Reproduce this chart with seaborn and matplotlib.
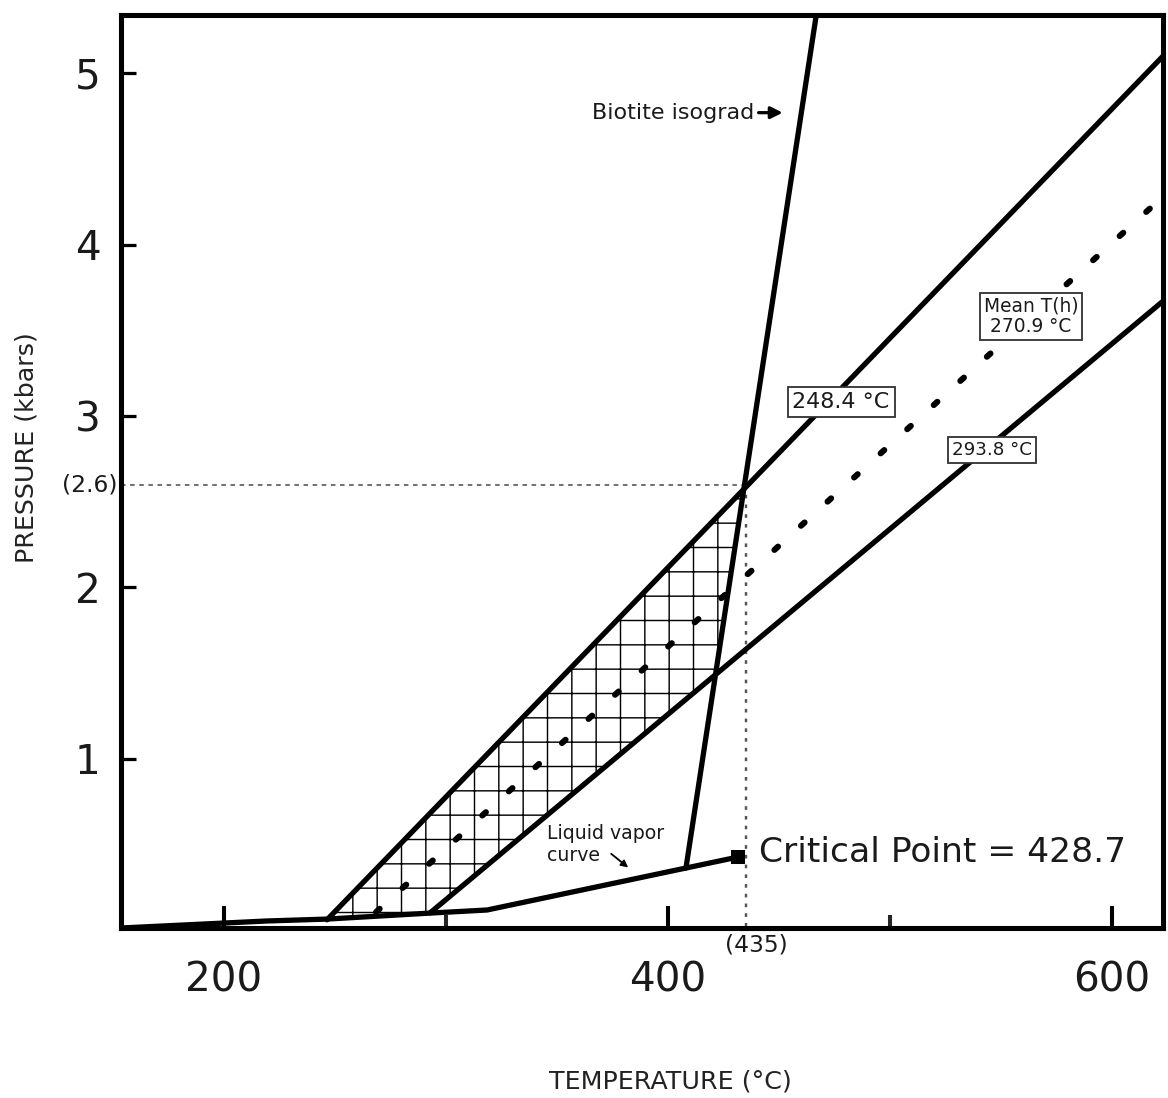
import numpy as np
import matplotlib
matplotlib.use("Agg")
import matplotlib.pyplot as plt
import seaborn as sns

# ---------------- data ----------------
iso248_T = [246.4, 623.0]          # isochore 248.4 °C
iso248_P = [0.06, 5.10]
mean_T = [268.5, 623.0]            # mean T(h) 270.9 °C isochore (dashed)
mean_P = [0.105, 4.28]
iso294_T = [292.8, 623.0]          # isochore 293.8 °C
iso294_P = [0.10, 3.67]
biotite_T = [408.1, 466.8]         # biotite isograd
biotite_P = [0.362, 5.34]
lv_T = [153.6, 219.4, 246.4, 292.8, 318.5, 408.1, 431.5]   # liquid-vapor curve
lv_P = [0.012, 0.053, 0.064, 0.099, 0.117, 0.362, 0.426]
crit_T = [431.5]
crit_P = [0.426]
trap_T = 435
trap_P = 2.6
x_major = [200, 400, 600]
x_minor = [300, 500]
y_ticks = [1, 2, 3, 4, 5]
x_limits = (153.6, 623.0)
y_limits = (0.012, 5.34)

# ---------------- style ----------------
sns.set_theme(style="white")
FONT = ["DejaVu Sans"]
plt.rcParams["font.family"] = FONT
plt.rcParams["hatch.linewidth"] = 0.7

DPI = 146
fig = plt.figure(figsize=(1168 / DPI, 1098 / DPI), dpi=DPI)
ax = fig.add_axes([121 / 1168, 1 - 928 / 1098, (1163 - 121) / 1168, (928 - 15) / 1098])
ax.set_facecolor("white")

LW = 2.6

# hatched region between the two bounding isochores, above L-V curve, left of isograd
T = np.linspace(x_limits[0], x_limits[1], 4000)
upper = np.interp(T, iso248_T, iso248_P, left=np.nan, right=np.nan)
low_iso = np.interp(T, iso294_T, iso294_P, left=-10, right=10)
low_lv = np.interp(T, lv_T, lv_P, left=np.nan, right=-10)
bs = (biotite_P[1] - biotite_P[0]) / (biotite_T[1] - biotite_T[0])
low_bio = biotite_P[0] + bs * (T - biotite_T[0])
lower = np.maximum.reduce([low_iso, low_lv, low_bio])
mask = np.nan_to_num(upper, nan=-100) > np.nan_to_num(lower, nan=100)
ax.fill_between(T, np.nan_to_num(lower), np.nan_to_num(upper), where=mask,
                interpolate=True, facecolor="none", edgecolor="black",
                hatch="+", linewidth=0, zorder=1)

# lines
sns.lineplot(x=iso248_T, y=iso248_P, ax=ax, color="black", lw=LW, zorder=3)
sns.lineplot(x=iso294_T, y=iso294_P, ax=ax, color="black", lw=LW, zorder=3)
sns.lineplot(x=mean_T, y=mean_P, ax=ax, color="black", lw=3.0,
             linestyle=(0, (0.8, 5.1)), dash_capstyle="round", zorder=3)
sns.lineplot(x=biotite_T, y=biotite_P, ax=ax, color="black", lw=LW, zorder=3)
sns.lineplot(x=lv_T, y=lv_P, ax=ax, color="black", lw=LW, zorder=3)
ax.plot(crit_T, crit_P, marker="s", ms=5.5, color="black", zorder=4)

# dotted guides
ax.plot([x_limits[0], trap_T], [trap_P, trap_P], color="#666666", lw=0.9,
        linestyle=(0, (2.5, 2.5)), zorder=2)
ax.plot([trap_T, trap_T], [trap_P, 0.0], color="#555555", lw=1.2,
        linestyle=(0, (1.5, 2.5)), zorder=2, clip_on=False)

ax.set_xlim(*x_limits)
ax.set_ylim(*y_limits)

# ticks
ax.set_xticks(x_major)
ax.set_xticklabels([str(v) for v in x_major])
ax.set_xticks(x_minor, minor=True)
ax.set_yticks(y_ticks)
ax.set_yticklabels([str(v) for v in y_ticks])
ax.tick_params(axis="x", which="major", direction="in", length=11, width=2.0,
               pad=16, labelsize=20, colors="black", bottom=True)
ax.tick_params(axis="x", which="minor", direction="in", length=6.5, width=2.0, bottom=True)
ax.tick_params(axis="y", which="major", direction="in", length=7.5, width=1.6,
               pad=10, labelsize=20, colors="black", left=True)
for lab in ax.get_xticklabels() + ax.get_yticklabels():
    lab.set_color("#1a1a1a")

for s in ax.spines.values():
    s.set_linewidth(2.5)
    s.set_color("black")
    s.set_visible(True)
ax.grid(False)
ax.set_xlabel("")
ax.set_ylabel("")

# annotations
txtc = "#1a1a1a"
ax.text(x_limits[0] - 1.5, trap_P, "(2.6)", ha="right", va="center", fontsize=11.5, color=txtc)
ax.text(trap_T + 5, -0.09, "(435)", ha="center", va="center", fontsize=11.5, color=txtc)

ax.text(441.0, 0.45, "Critical Point = 428.7", ha="left", va="center", fontsize=17, color=txtc)

ax.text(366.0, 4.77, "Biotite isograd", ha="left", va="center", fontsize=11, color=txtc)
ax.annotate("", xy=(453.5, 4.77), xytext=(439.0, 4.77),
            arrowprops=dict(arrowstyle="-|>", color="black", lw=1.6, mutation_scale=12))

ax.text(345.5, 0.50, "Liquid vapor\ncurve", ha="left", va="center", fontsize=9.3,
        color=txtc, linespacing=1.15)
ax.annotate("", xy=(383.5, 0.35), xytext=(373.0, 0.46),
            arrowprops=dict(arrowstyle="-|>", color="black", lw=0.9, mutation_scale=7))

box = dict(boxstyle="square,pad=0.22", facecolor="white", edgecolor="#333333", lw=0.9)
ax.text(478.0, 3.08, "248.4 °C", ha="center", va="center", fontsize=11, color=txtc,
        bbox=box, zorder=5)
ax.text(546.0, 2.80, "293.8 °C", ha="center", va="center", fontsize=9, color=txtc,
        bbox=box, zorder=5)
ax.text(563.5, 3.58, "Mean T(h)\n270.9 °C", ha="center", va="center", fontsize=9.2,
        color=txtc, bbox=box, zorder=5, linespacing=1.1)

# axis titles
fig.text(670 / 1168, 1 - 1082 / 1098, "TEMPERATURE (°C)", ha="center", va="center",
         fontsize=12.5, color="#222222")
fig.text(27 / 1168, 1 - 448 / 1098, "PRESSURE (kbars)", ha="center", va="center",
         rotation=90, fontsize=12.5, color="#222222")

fig.savefig("out.png", dpi=DPI, facecolor="white")
